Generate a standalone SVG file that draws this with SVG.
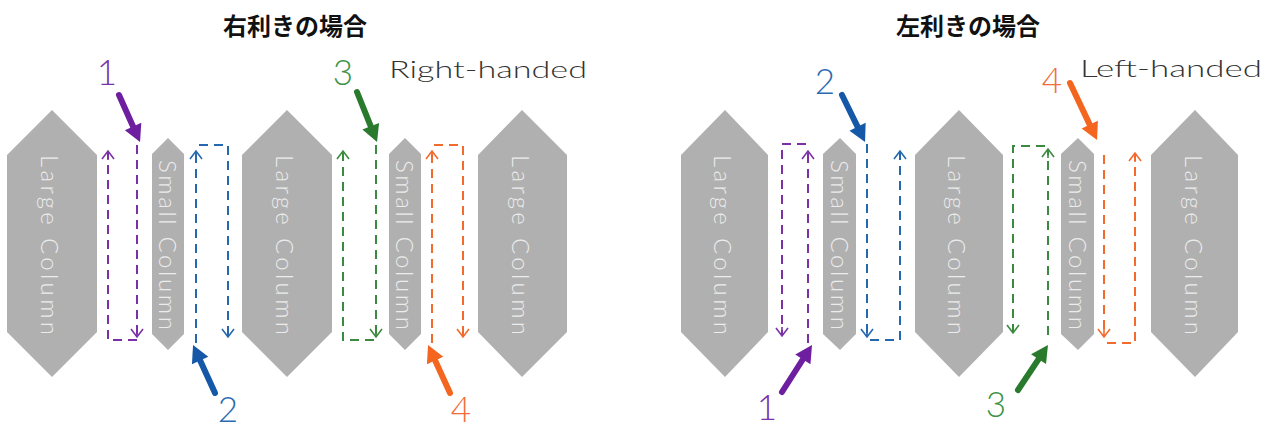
<svg xmlns="http://www.w3.org/2000/svg" width="1268" height="429" viewBox="0 0 1268 429">
<style>
.col{fill:#b0b0b0}
.ct{font-family:Lato,"Open Sans","DejaVu Sans",sans-serif;font-weight:300;font-size:24px;fill:#ececec;text-anchor:middle;dominant-baseline:central}
.ttl{font-family:"Noto Sans CJK JP","Noto Sans",sans-serif;font-weight:bold;font-size:24px;fill:#111;text-anchor:middle}
.hand{font-family:Lato,"Open Sans","DejaVu Sans",sans-serif;font-weight:300;font-size:24px;fill:#333}
.num{font-family:Lato,"Open Sans","DejaVu Sans",sans-serif;font-weight:300;font-size:35px;text-anchor:middle}
.d{fill:none;stroke-width:2;stroke-dasharray:9 6}
.big{fill:none;stroke-width:6;stroke-linecap:round}
.pu{stroke:#7b30a6}.bl{stroke:#2468b0}.gr{stroke:#3b8a3f}.or{stroke:#f26a2c}
</style>
<defs>
<marker id="cPu" markerUnits="userSpaceOnUse" markerWidth="16" markerHeight="16" viewBox="-10 -8 12 16" refX="0" refY="0" orient="auto" overflow="visible"><path d="M-8,-6 L0,0 L-8,6 M0,0 H-9" fill="none" stroke="#7b30a6" stroke-width="1.6"/></marker>
<marker id="cBl" markerUnits="userSpaceOnUse" markerWidth="16" markerHeight="16" viewBox="-10 -8 12 16" refX="0" refY="0" orient="auto" overflow="visible"><path d="M-8,-6 L0,0 L-8,6 M0,0 H-9" fill="none" stroke="#2468b0" stroke-width="1.6"/></marker>
<marker id="cGr" markerUnits="userSpaceOnUse" markerWidth="16" markerHeight="16" viewBox="-10 -8 12 16" refX="0" refY="0" orient="auto" overflow="visible"><path d="M-8,-6 L0,0 L-8,6 M0,0 H-9" fill="none" stroke="#3b8a3f" stroke-width="1.6"/></marker>
<marker id="cOr" markerUnits="userSpaceOnUse" markerWidth="16" markerHeight="16" viewBox="-10 -8 12 16" refX="0" refY="0" orient="auto" overflow="visible"><path d="M-8,-6 L0,0 L-8,6 M0,0 H-9" fill="none" stroke="#f26a2c" stroke-width="1.6"/></marker>
<marker id="hPu" markerUnits="userSpaceOnUse" markerWidth="18" markerHeight="20" viewBox="0 -10 18 20" refX="0" refY="0" orient="auto" overflow="visible"><path d="M-1,-9 L16,0 L-1,9 Z" fill="#6e1fa0"/></marker>
<marker id="hBl" markerUnits="userSpaceOnUse" markerWidth="18" markerHeight="20" viewBox="0 -10 18 20" refX="0" refY="0" orient="auto" overflow="visible"><path d="M-1,-9 L16,0 L-1,9 Z" fill="#1558a8"/></marker>
<marker id="hGr" markerUnits="userSpaceOnUse" markerWidth="18" markerHeight="20" viewBox="0 -10 18 20" refX="0" refY="0" orient="auto" overflow="visible"><path d="M-1,-9 L16,0 L-1,9 Z" fill="#2a7a2e"/></marker>
<marker id="hOr" markerUnits="userSpaceOnUse" markerWidth="18" markerHeight="20" viewBox="0 -10 18 20" refX="0" refY="0" orient="auto" overflow="visible"><path d="M-1,-9 L16,0 L-1,9 Z" fill="#f4651f"/></marker>
</defs>

<text class="ttl" x="295" y="35">右利きの場合</text>
<text class="ttl" x="968" y="35">左利きの場合</text>
<text class="hand" x="389" y="78" textLength="198" lengthAdjust="spacingAndGlyphs">Right-handed</text>
<text class="hand" x="1080" y="77" textLength="182" lengthAdjust="spacingAndGlyphs">Left-handed</text>

<g id="large1"><polygon class="col" points="7,155 52,110 97,155 97,332 52,377 7,332"/><text class="ct" transform="translate(50,245) rotate(90)" textLength="180" lengthAdjust="spacing">Large Column</text></g>
<g id="small1"><polygon class="col" points="152,154 168,138 184,154 184,334 168,350 152,334"/><text class="ct" transform="translate(168,245) rotate(90)" textLength="170" lengthAdjust="spacing">Small Column</text></g>
<g id="large2"><polygon class="col" points="242,155 287,110 332,155 332,332 287,377 242,332"/><text class="ct" transform="translate(285,245) rotate(90)" textLength="180" lengthAdjust="spacing">Large Column</text></g>
<g id="small2"><polygon class="col" points="389,154 405,138 421,154 421,334 405,350 389,334"/><text class="ct" transform="translate(405,245) rotate(90)" textLength="170" lengthAdjust="spacing">Small Column</text></g>
<g id="large3"><polygon class="col" points="478,155 522,110 567,155 567,332 522,377 478,332"/><text class="ct" transform="translate(521,245) rotate(90)" textLength="180" lengthAdjust="spacing">Large Column</text></g>

<g id="large4"><polygon class="col" points="681,155 725,110 768,155 768,332 725,377 681,332"/><text class="ct" transform="translate(723,245) rotate(90)" textLength="180" lengthAdjust="spacing">Large Column</text></g>
<g id="small3"><polygon class="col" points="823,154 840,138 856,154 856,334 840,350 823,334"/><text class="ct" transform="translate(840,245) rotate(90)" textLength="170" lengthAdjust="spacing">Small Column</text></g>
<g id="large5"><polygon class="col" points="915,155 959,110 1003,155 1003,332 959,377 915,332"/><text class="ct" transform="translate(957,245) rotate(90)" textLength="180" lengthAdjust="spacing">Large Column</text></g>
<g id="small4"><polygon class="col" points="1061,154 1078,138 1094,154 1094,334 1078,350 1061,334"/><text class="ct" transform="translate(1078,245) rotate(90)" textLength="170" lengthAdjust="spacing">Small Column</text></g>
<g id="large6"><polygon class="col" points="1151,155 1195,110 1238,155 1238,332 1195,377 1151,332"/><text class="ct" transform="translate(1194,245) rotate(90)" textLength="180" lengthAdjust="spacing">Large Column</text></g>

<g id="connectors">
<path class="d pu" d="M137,145 V337" marker-end="url(#cPu)"/>
<path class="d pu" d="M137,340 H108 V151" marker-end="url(#cPu)"/>
<path class="d bl" d="M196,343 V151" marker-end="url(#cBl)"/>
<path class="d bl" d="M199,145 H228 V337" marker-end="url(#cBl)"/>
<path class="d gr" d="M376,145 V337" marker-end="url(#cGr)"/>
<path class="d gr" d="M374,340 H343 V151" marker-end="url(#cGr)"/>
<path class="d or" d="M432,343 V151" marker-end="url(#cOr)"/>
<path class="d or" d="M434,145 H463 V337" marker-end="url(#cOr)"/>
<path class="d pu" d="M808,343 V151" marker-end="url(#cPu)"/>
<path class="d pu" d="M806,144 H782 V336" marker-end="url(#cPu)"/>
<path class="d bl" d="M867,144 V337" marker-end="url(#cBl)"/>
<path class="d bl" d="M870,340 H900 V151" marker-end="url(#cBl)"/>
<path class="d gr" d="M1048,335 V149" marker-end="url(#cGr)"/>
<path class="d gr" d="M1045,146 H1013 V333" marker-end="url(#cGr)"/>
<path class="d or" d="M1104,155 V337" marker-end="url(#cOr)"/>
<path class="d or" d="M1107,343 H1135 V153" marker-end="url(#cOr)"/>
<path class="big" stroke="#6e1fa0" d="M119,95 L133.5,127.4" marker-end="url(#hPu)"/>
<path class="big" stroke="#1558a8" d="M215,393 L199.7,359.5" marker-end="url(#hBl)"/>
<path class="big" stroke="#2a7a2e" d="M357,92 L371.1,127.2" marker-end="url(#hGr)"/>
<path class="big" stroke="#f4651f" d="M450,393 L434.7,359.5" marker-end="url(#hOr)"/>
<path class="big" stroke="#6e1fa0" d="M782,392 L803.4,358.5" marker-end="url(#hPu)"/>
<path class="big" stroke="#1558a8" d="M842,95 L858,127.6" marker-end="url(#hBl)"/>
<path class="big" stroke="#2a7a2e" d="M1018,390 L1039.1,358.3" marker-end="url(#hGr)"/>
<path class="big" stroke="#f4651f" d="M1070,83 L1090.2,125.6" marker-end="url(#hOr)"/>
</g>

<g id="labels">
<text class="num" x="107" y="85" fill="#7a32a8">1</text>
<text class="num" x="228" y="422" fill="#2a6ab2">2</text>
<text class="num" x="343" y="85" fill="#3d9245">3</text>
<text class="num" x="461" y="422" fill="#f06d38">4</text>
<text class="num" x="767" y="420" fill="#7a32a8">1</text>
<text class="num" x="825" y="94" fill="#2a6ab2">2</text>
<text class="num" x="996" y="417" fill="#3d9245">3</text>
<text class="num" x="1052" y="93" fill="#f06d38">4</text>
</g>
</svg>
